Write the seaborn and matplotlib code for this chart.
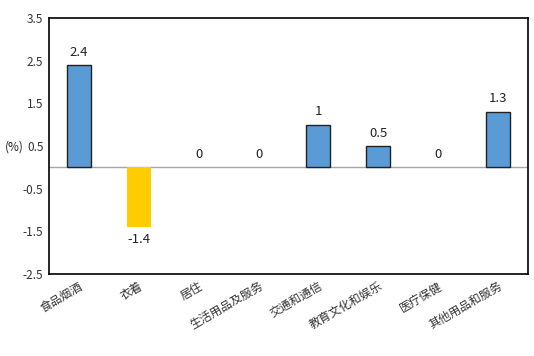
import matplotlib
matplotlib.use("Agg")
import matplotlib.pyplot as plt
import seaborn as sns
import pandas as pd

# categories and values
categories = ["食品烟酒", "衣着", "居住", "生活用品及服务", "交通和通信", "教育文化和娱乐", "医疗保健", "其他用品和服务"]
values = [2.4, -1.4, 0, 0, 1, 0.5, 0, 1.3]
value_labels = ["2.4", "-1.4", "0", "0", "1", "0.5", "0", "1.3"]
y_ticks = [3.5, 2.5, 1.5, 0.5, -0.5, -1.5, -2.5]

sns.set_style("white")
plt.rcParams["font.family"] = ["Noto Sans CJK SC", "DejaVu Sans"]

df = pd.DataFrame({"cat": categories, "val": values})
df["sign"] = ["neg" if v < 0 else "pos" for v in values]

fig = plt.figure(figsize=(5.34, 3.56), dpi=100)
ax = fig.add_axes([49 / 534, 1 - 274 / 356, 479 / 534, 256 / 356])

sns.barplot(data=df, x="cat", y="val", hue="sign",
            palette={"pos": "#5B9BD5", "neg": "#FFCC00"},
            width=0.4, dodge=False, legend=False, saturation=1, ax=ax)

# dark outline on the blue bars only
for patch in ax.patches:
    if patch.get_height() > 0:
        patch.set_edgecolor("#222222")
        patch.set_linewidth(1.0)
    else:
        patch.set_linewidth(0)

ax.axhline(0, color="#A6A6A6", lw=1, zorder=0)
ax.set_ylim(-2.5, 3.5)
ax.set_xlim(-0.5, len(categories) - 0.5)
ax.set_yticks(y_ticks)
ax.set_yticklabels([str(t) for t in y_ticks], fontsize=8.5, color="#333333")
ax.tick_params(axis="both", length=0, pad=4)
ax.set_xticks(range(len(categories)))
ax.set_xticklabels(categories, rotation=30, ha="right", rotation_mode="anchor",
                   fontsize=8.5, color="#333333")
ax.set_xlabel("")
ax.set_ylabel("")

for sp in ax.spines.values():
    sp.set_visible(True)
    sp.set_color("black")
    sp.set_linewidth(1.2)

for i, (v, lab) in enumerate(zip(values, value_labels)):
    if v < 0:
        ax.text(i, v - 0.15, lab, ha="center", va="top", fontsize=9.5, color="#222222")
    else:
        ax.text(i, v + 0.15, lab, ha="center", va="bottom", fontsize=9.5, color="#222222")

fig.text(5 / 534, 1 - 147 / 356, "(%)", fontsize=8.5, va="center", ha="left", color="#222222")

fig.savefig("out.png", dpi=100)
